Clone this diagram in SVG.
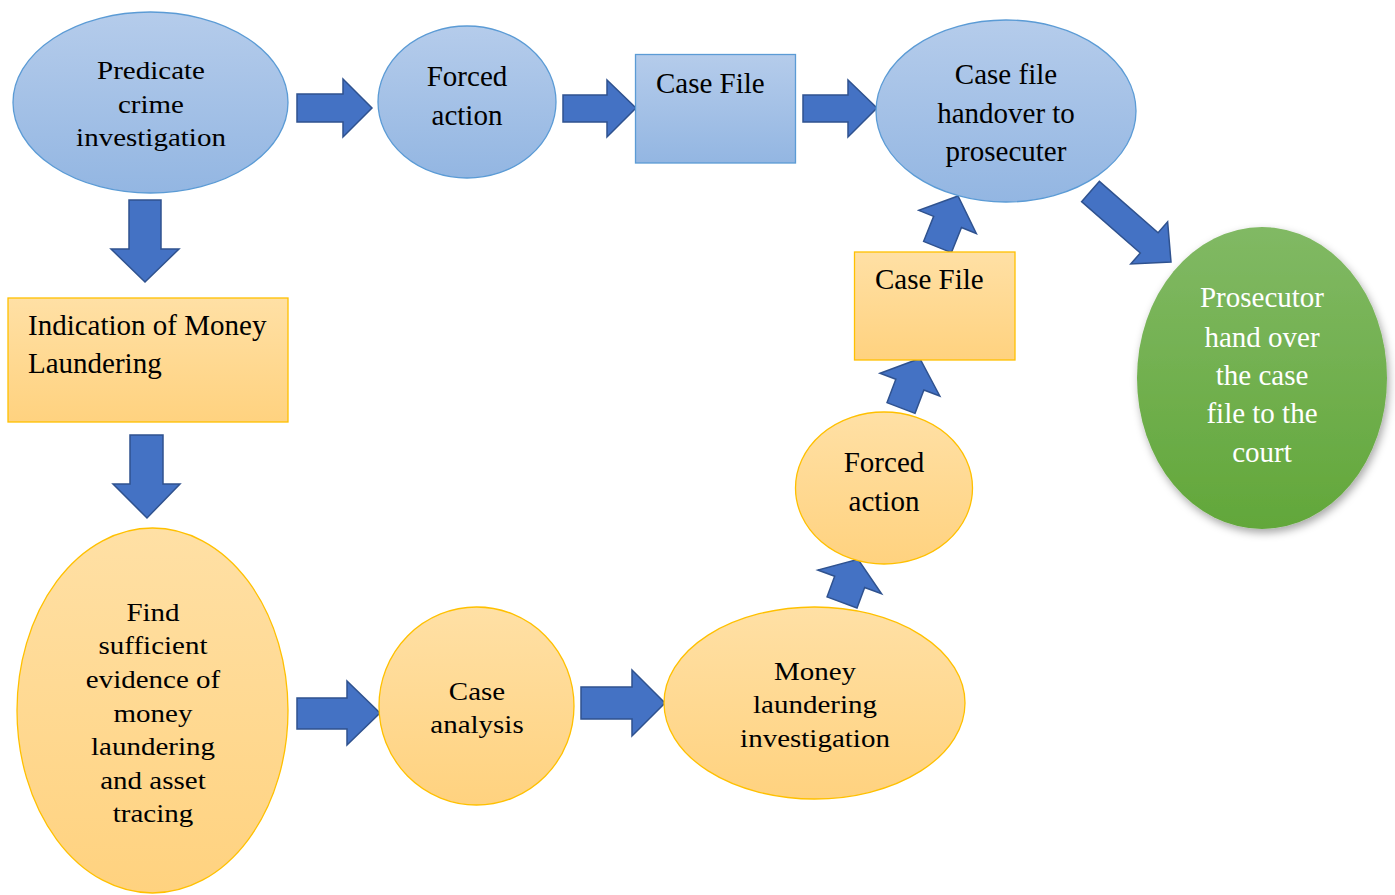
<svg xmlns="http://www.w3.org/2000/svg" width="1395" height="895" viewBox="0 0 1395 895">
  <defs>
    <linearGradient id="gBlue" x1="0" y1="0" x2="0" y2="1">
      <stop offset="0" stop-color="#B5CCEB"/>
      <stop offset="1" stop-color="#93B6E2"/>
    </linearGradient>
    <linearGradient id="gYellow" x1="0" y1="0" x2="0" y2="1">
      <stop offset="0" stop-color="#FFE0A5"/>
      <stop offset="1" stop-color="#FFD27F"/>
    </linearGradient>
    <linearGradient id="gGreen" x1="0" y1="0" x2="0" y2="1">
      <stop offset="0" stop-color="#81B964"/>
      <stop offset="1" stop-color="#62A73A"/>
    </linearGradient>
    <filter id="shadow" x="-20%" y="-20%" width="140%" height="140%">
      <feDropShadow dx="2" dy="4" stdDeviation="4" flood-color="#000" flood-opacity="0.35"/>
    </filter>
  </defs>
  <style>
    .blue { fill: url(#gBlue); stroke: #5B9BD5; stroke-width: 1.3; }
    .yellow { fill: url(#gYellow); stroke: #FFC000; stroke-width: 1.3; }
    .green { fill: url(#gGreen); filter: url(#shadow); }
    .t { font-family: "Liberation Serif", "Times New Roman", serif; font-size: 29px; fill: #000; }
    .c { text-anchor: middle; }
    .w { fill: #FFFFFF; }
    .arrow { fill: #4472C4; stroke: #2F528F; stroke-width: 1.5; stroke-linejoin: miter; }
  </style>
  <rect width="1395" height="895" fill="#FFFFFF"/>

  <g id="connectors">
    <path class="arrow" d="M297,94 H343 V79 L372,108 L343,137 V122 H297 Z"/>
    <path class="arrow" d="M563,95 H607 V80 L636,108 L607,137 V122 H563 Z"/>
    <path class="arrow" d="M803,95 H848 V80 L877,108 L848,137 V122 H803 Z"/>
    <path class="arrow" d="M129,200 H161 V249 H179 L145,282 L111,249 H129 Z"/>
    <path class="arrow" d="M130,435 H163 V484 H180 L147,518 L113,484 H130 Z"/>
    <path class="arrow" d="M297,698 H347 V681 L380,713 L347,745 V729 H297 Z"/>
    <path class="arrow" d="M581,687 H632 V670 L665,703 L632,736 V719 H581 Z"/>
    <path class="arrow" transform="translate(842,602.5) rotate(-69.6)" d="M0,-16 H22 V-34 L46,0 L22,34 V16 H0 Z"/>
    <path class="arrow" transform="translate(901,408) rotate(-69.2)" d="M0,-15 H25 V-32 L53,0 L25,32 V15 H0 Z"/>
    <path class="arrow" transform="translate(937.5,247) rotate(-68.1)" d="M0,-15 H27 V-31 L55,0 L27,31 V15 H0 Z"/>
    <path class="arrow" transform="translate(1090.5,191.5) rotate(41.2)" d="M0,-13.5 H78 V-28 L107,0 L78,28 V13.5 H0 Z"/>
  </g>

  <g id="predicate-crime-investigation">
    <ellipse class="blue" cx="150.5" cy="102.5" rx="137.5" ry="90.5"/>
    <text class="t c" transform="scale(1,0.85)"><tspan x="151" y="92.9">Predicate</tspan><tspan x="151" y="132.9">crime</tspan><tspan x="151" y="171.8">investigation</tspan></text>
  </g>

  <g id="forced-action-top">
    <ellipse class="blue" cx="467" cy="102" rx="89" ry="76"/>
    <text class="t c"><tspan x="467" y="86">Forced</tspan><tspan x="467" y="125">action</tspan></text>
  </g>

  <g id="case-file-top">
    <rect class="blue" x="635.5" y="54.5" width="160" height="108.5"/>
    <text class="t" x="656" y="93">Case File</text>
  </g>

  <g id="case-file-handover">
    <ellipse class="blue" cx="1006" cy="111" rx="130" ry="91"/>
    <text class="t c"><tspan x="1006" y="84">Case file</tspan><tspan x="1006" y="123">handover to</tspan><tspan x="1006" y="161">prosecuter</tspan></text>
  </g>

  <g id="prosecutor-court">
    <ellipse class="green" cx="1262" cy="378" rx="125" ry="151"/>
    <text class="t c w"><tspan x="1262" y="307">Prosecutor</tspan><tspan x="1262" y="347">hand over</tspan><tspan x="1262" y="385">the case</tspan><tspan x="1262" y="423">file to the</tspan><tspan x="1262" y="462">court</tspan></text>
  </g>

  <g id="indication-money-laundering">
    <rect class="yellow" x="8" y="298" width="280" height="124"/>
    <text class="t"><tspan x="28" y="335">Indication of Money</tspan><tspan x="28" y="373">Laundering</tspan></text>
  </g>

  <g id="find-sufficient-evidence">
    <ellipse class="yellow" cx="152.5" cy="710.5" rx="135.5" ry="182.5"/>
    <text class="t c" transform="scale(1,0.85)"><tspan x="153" y="730.6">Find</tspan><tspan x="153" y="769.4">sufficient</tspan><tspan x="153" y="809.4">evidence of</tspan><tspan x="153" y="849.4">money</tspan><tspan x="153" y="888.2">laundering</tspan><tspan x="153" y="928.2">and asset</tspan><tspan x="153" y="967.1">tracing</tspan></text>
  </g>

  <g id="case-analysis">
    <ellipse class="yellow" cx="476.5" cy="706" rx="97.5" ry="99"/>
    <text class="t c" transform="scale(1,0.85)"><tspan x="477" y="823.5">Case</tspan><tspan x="477" y="862.4">analysis</tspan></text>
  </g>

  <g id="money-laundering-investigation">
    <ellipse class="yellow" cx="814.5" cy="703" rx="150.5" ry="96"/>
    <text class="t c" transform="scale(1,0.85)"><tspan x="815" y="800">Money</tspan><tspan x="815" y="838.8">laundering</tspan><tspan x="815" y="878.8">investigation</tspan></text>
  </g>

  <g id="forced-action-bottom">
    <ellipse class="yellow" cx="884" cy="488" rx="88.5" ry="76"/>
    <text class="t c"><tspan x="884" y="472">Forced</tspan><tspan x="884" y="511">action</tspan></text>
  </g>

  <g id="case-file-bottom">
    <rect class="yellow" x="854.5" y="252" width="160.5" height="108"/>
    <text class="t" x="875" y="289">Case File</text>
  </g>
</svg>
